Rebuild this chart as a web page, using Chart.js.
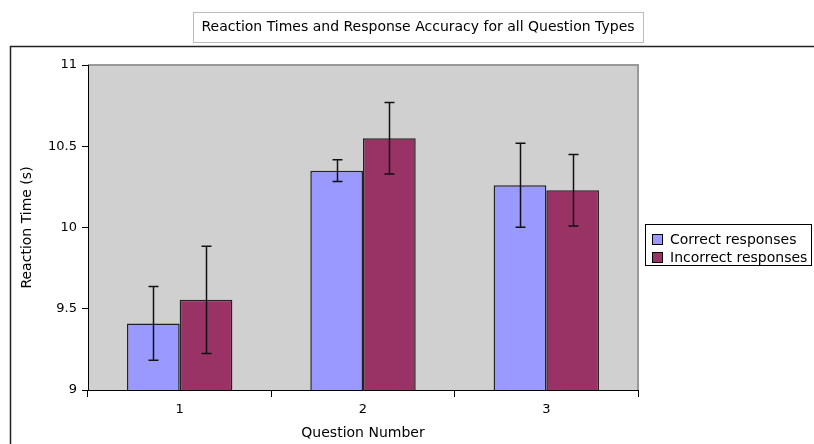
<!DOCTYPE html>
<html>
<head>
<meta charset="utf-8">
<script src="https://cdn.jsdelivr.net/npm/chart.js@4/dist/chart.umd.min.js"></script>
<style>
  html, body { margin: 0; padding: 0; background: #fff; }
  #wrap { width: 814px; height: 444px; }
</style>
</head>
<body>
<div id="wrap"><canvas id="graph" width="814" height="444"></canvas></div>
<script>
// data
var categories = ['1', '2', '3'];
var correctTimes = [9.41, 10.35, 10.26];
var incorrectTimes = [9.555, 10.55, 10.23];
var correctErr = [0.227, 0.067, 0.258];
var incorrectErr = [0.33, 0.22, 0.22];
var yMin = 9, yMax = 11, yStep = 0.5;
var yTickLabels = ['9', '9.5', '10', '10.5', '11'];

var titleText = 'Reaction Times and Response Accuracy for all Question Types';
var FONT = 'DejaVu Sans';

// plot area background, frame, title box, legend, error bars
var excelLook = {
  id: 'excelLook',
  beforeDraw: function(chart) {
    var c = chart.ctx, a = chart.chartArea;
    c.save();
    c.fillStyle = '#fff';
    c.fillRect(0, 0, chart.width, chart.height);
    c.fillStyle = '#d0d0d0';
    c.fillRect(a.left, a.top, a.right - a.left, a.bottom - a.top);
    c.strokeStyle = '#999';
    c.lineWidth = 2;
    c.beginPath();
    c.moveTo(a.left, a.top);
    c.lineTo(a.right, a.top);
    c.lineTo(a.right, a.bottom);
    c.stroke();
    c.restore();
  },
  afterDatasetsDraw: function(chart) {
    var c = chart.ctx, y = chart.scales.y;
    var errs = [correctErr, incorrectErr];
    c.save();
    c.strokeStyle = '#111';
    c.lineWidth = 1.5;
    chart.data.datasets.forEach(function(ds, i) {
      chart.getDatasetMeta(i).data.forEach(function(bar, j) {
        var v = ds.data[j], e = errs[i][j];
        var x = Math.round(bar.x) + 0.5;
        var top = y.getPixelForValue(v + e), bot = y.getPixelForValue(v - e);
        c.beginPath();
        c.moveTo(x, top); c.lineTo(x, bot);
        c.moveTo(x - 5, top); c.lineTo(x + 5, top);
        c.moveTo(x - 5, bot); c.lineTo(x + 5, bot);
        c.stroke();
      });
    });
    c.restore();
  },
  afterDraw: function(chart) {
    var c = chart.ctx;
    c.save();
    // outer chart frame
    c.strokeStyle = '#222';
    c.lineWidth = 1.5;
    c.beginPath();
    c.moveTo(10.5, chart.height);
    c.lineTo(10.5, 46.5);
    c.lineTo(chart.width, 46.5);
    c.stroke();

    // title in a box
    c.font = '14px "' + FONT + '"';
    c.fillStyle = '#000';
    c.textAlign = 'center';
    c.textBaseline = 'middle';
    c.fillText(titleText, 418, 27);
    c.strokeStyle = '#bbb';
    c.lineWidth = 1;
    c.strokeRect(193.5, 12.5, 450, 30);

    // legend
    c.fillStyle = '#fff';
    c.fillRect(645.5, 224.5, 166, 41);
    c.strokeStyle = '#000';
    c.strokeRect(645.5, 224.5, 166, 41);
    c.textAlign = 'left';
    chart.data.datasets.forEach(function(ds, i) {
      var cy = 240 + i * 18;
      c.fillStyle = ds.backgroundColor;
      c.fillRect(652.5, cy - 5.5, 10, 10);
      c.strokeStyle = '#000';
      c.strokeRect(652.5, cy - 5.5, 10, 10);
      c.fillStyle = '#000';
      c.fillText(ds.label, 670, cy);
    });
    c.restore();
  }
};

var ctx = document.getElementById('graph');
var myChart = new Chart(ctx, {
  type: 'bar',
  data: {
    labels: categories,
    datasets: [{
      label: 'Correct responses',
      data: correctTimes,
      backgroundColor: '#9999ff',
      borderColor: '#222',
      borderWidth: 1.5
    }, {
      label: 'Incorrect responses',
      data: incorrectTimes,
      backgroundColor: '#993366',
      borderColor: '#222',
      borderWidth: 1.5
    }]
  },
  plugins: [excelLook],
  options: {
    responsive: false,
    animation: false,
    layout: { padding: { top: 65, right: 176, bottom: 0, left: 0 } },
    datasets: { bar: { categoryPercentage: 0.575, barPercentage: 1 } },
    plugins: {
      legend: { display: false },
      title: { display: false },
      tooltip: { enabled: false }
    },
    scales: {
      x: {
        afterFit: function(s) { s.height = 54; },
        grid: { drawOnChartArea: false, tickLength: 7, color: '#000', offset: true },
        border: { color: '#000', width: 1 },
        ticks: { color: '#000', padding: 5, font: { family: FONT, size: 13 } },
        title: { display: true, text: 'Question Number', color: '#000',
                 padding: { bottom: 2 }, font: { family: FONT, size: 14 } }
      },
      y: {
        min: yMin,
        max: yMax,
        afterFit: function(s) { s.width = 88; },
        grid: { drawOnChartArea: false, tickLength: 6, color: '#000' },
        border: { color: '#000', width: 1 },
        ticks: {
          stepSize: yStep, color: '#000', padding: 5, font: { family: FONT, size: 13 },
          callback: function(v, i) { return yTickLabels[i]; }
        },
        title: { display: true, text: 'Reaction Time (s)', color: '#000',
                 padding: { top: 19 }, font: { family: FONT, size: 14 } }
      }
    }
  }
});
</script>
</body>
</html>
